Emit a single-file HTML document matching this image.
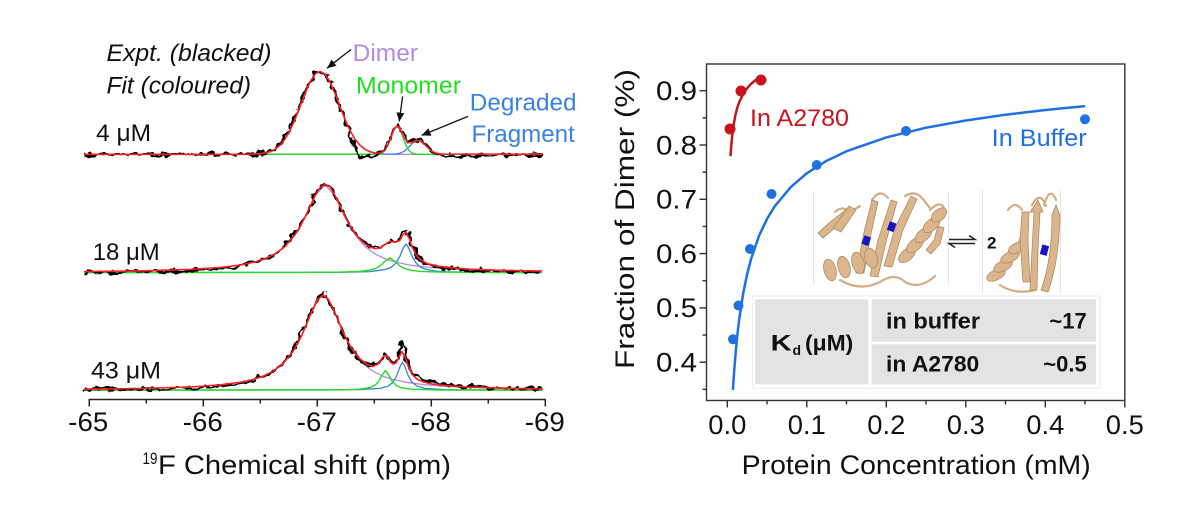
<!DOCTYPE html>
<html><head><meta charset="utf-8"><style>
html,body{margin:0;padding:0;background:#fff;}
svg{display:block;font-family:"Liberation Sans",Arial,sans-serif;}
</style></head><body>
<svg width="1191" height="511" viewBox="0 0 1191 511" xmlns="http://www.w3.org/2000/svg">
<defs>
<filter id="jit" filterUnits="userSpaceOnUse" x="0" y="0" width="1191" height="511">
<feTurbulence type="fractalNoise" baseFrequency="0.13 0.13" numOctaves="2" seed="5" result="t"/>
<feColorMatrix in="t" type="matrix" values="1 0 0 0 0  0 1 0 0 0  0 0 1 0 0  0 0 0 0 1" result="t2"/>
<feDisplacementMap in="SourceGraphic" in2="t2" scale="9" xChannelSelector="R" yChannelSelector="G"/>
</filter>
<marker id="ah" markerUnits="userSpaceOnUse" markerWidth="10" markerHeight="10" refX="9" refY="5" orient="auto">
<path d="M0,1 L9,5 L0,9 z" fill="#111"/>
</marker>
</defs>
<rect width="1191" height="511" fill="#fff"/>

<!-- ================= LEFT: spectra ================= -->
<g fill="none" stroke-linejoin="round">
<!-- purple dimer components -->
<g stroke="#b48be0" stroke-width="1.3">
<path d="M84,154.3 L255,154.3 L260,153.7 L265,153 L270,151.7 L275,149.3 L280,145.3 L285,139.1 L290,130.4 L295,119.4 L300,106.6 L305,93.5 L310,82 L315,74.1 L320,71.3 L325,74.1 L330,82 L335,93.5 L340,106.6 L345,119.4 L350,130.4 L355,139.1 L360,145.3 L365,149.3 L370,151.7 L375,153 L380,153.7 L390,154.3 L542,154.3"/>
<path d="M84,271.6 L140,270.9 L190,269.45 L220,267.5 L240,265.1 L255,261.9 L265,258.7 L275,253.9 L285,246.5 L295,234.8 L305,217.3 L315,196 L325,184.6 L335,196 L345,217.3 L355,234.8 L365,246.5 L375,253.9 L385,258.7 L395,261.9 L410,265.1 L430,267.5 L460,269.45 L510,270.9 L542,271.4"/>
<path d="M84,389.2 L140,388.5 L190,387 L220,384.9 L240,382.3 L253,379.5 L263,376.2 L273,371.3 L283,363.6 L293,351.5 L298,343 L303,332.6 L308,320.7 L313,308.7 L318,299.3 L323,295.7 L328,299.3 L333,308.7 L338,320.7 L343,332.6 L348,343 L353,351.5 L363,363.6 L373,371.3 L383,376.2 L393,379.5 L406,382.3 L426,384.9 L456,387 L506,388.5 L542,389"/>
</g>
<!-- blue degraded components -->
<g stroke="#3b82e0" stroke-width="1.3">
<path d="M84,154.3 L395,154.1 L400,153.2 L404,151.3 L408,147.9 L412,143.7 L416,140.7 L418,140.3 L420,140.7 L424,143.7 L428,147.9 L432,151.3 L436,153.2 L441,154.1 L542,154.3"/>
<path d="M84,272.6 L340,272.3 L370,271.6 L386,269.4 L391,267.5 L396,263 L400,256.1 L403,248.4 L406,244 L409,248.4 L412,256.1 L416,263 L421,267.5 L426,269.4 L436,271.1 L446,271.75 L480,272.3 L542,272.6"/>
<path d="M84,390.2 L360,389.65 L380,388.4 L388,386.1 L393,382.3 L397,375.2 L400,366.6 L402.6,362.2 L405,366.6 L408,375.2 L412,382.3 L417,386.1 L425,388.4 L445,389.65 L542,390.2"/>
</g>
<!-- green monomer components -->
<g stroke="#22dd22" stroke-width="1.4">
<path d="M84,154.3 L378,154.3 L382,153.1 L385,150.5 L388,145.2 L390,140.1 L392,134.5 L394,129.6 L397,126.3 L400,129.6 L402,134.5 L404,140.1 L406,145.2 L409,150.5 L412,153.1 L416,154.3 L542,154.3"/>
<path d="M84,272.6 L300,272.45 L340,272.1 L360,271.4 L370,270.1 L375,268.7 L380,266 L385,261.3 L390,257.8 L395,261.3 L400,266 L405,268.7 L410,270.1 L420,271.4 L440,272.1 L480,272.45 L542,272.6"/>
<path d="M84,390.2 L340,389.9 L360,389.1 L370,387.6 L375,385.3 L379,381 L382,375.4 L385.4,370.6 L389,375.4 L392,381 L396,385.3 L401,387.7 L411,389.2 L440,390 L542,390.2"/>
</g>
<!-- black experimental -->
<g stroke="#000" stroke-width="2.6" filter="url(#jit)">
<path d="M84,154.3 L250,154.3 L260,153.7 L265,152.5 L270,150.7 L275,147.8 L280,143.3 L285,136.6 L290,127.4 L295,116.4 L300,104 L305,91.5 L310,80.5 L315,72.8 L320,71 L325,73.6 L330,81.5 L335,93.5 L340,107.6 L345,121.4 L350,134 L355,147 L358,155.5 L362,157.5 L368,155 L375,154.5 L380,153.2 L385,150.3 L390,140.1 L394,129.4 L397,125 L400,128.5 L404,137.1 L408,142.2 L412,141.5 L416,139 L420,139.7 L425,143.8 L430,149 L435,153 L440,155.5 L445,156 L542,154.3"/>
<path d="M84,272.6 L90,272 L140,271.5 L190,270.5 L220,268.5 L240,266.5 L252,262 L258,260.5 L265,259.5 L275,254.5 L285,246 L295,234 L300,226 L305,216.5 L310,206 L315,195.5 L320,187 L325,183.5 L330,186.8 L335,195.3 L340,205.8 L345,216.3 L350,225.8 L355,233.3 L360,239.4 L365,244 L370,246.5 L375,247.6 L380,247 L385,243.5 L390,240.5 L395,241 L400,239 L403,233.7 L406,230.5 L409,237.5 L412,246.7 L416,255 L421,260.5 L428,264.5 L438,266.5 L450,268.5 L470,270.5 L500,271.5 L542,272"/>
<path d="M84,389.8 L140,389 L190,388 L220,386.5 L240,383.5 L253,382 L255,379 L263,376.5 L273,371.8 L283,363 L290,354 L293,349.5 L298,340.5 L303,329.6 L308,318.7 L313,307.7 L318,298.3 L323,293 L328,298.8 L333,309.1 L338,321 L343,332.8 L348,343.1 L353,351.4 L358,357.9 L363,361.6 L368,364.5 L373,365.5 L378,363.1 L381,358.7 L384,353 L387,355 L390,360.5 L393,363.2 L396,360.9 L399,354.2 L401,345 L402.5,341.5 L404,347 L406,356.4 L408,363 L412,371.5 L417,377.1 L423,380.5 L432,382.5 L445,384.6 L465,386 L500,387.5 L542,388.5"/>
</g>
<!-- red fits -->
<g stroke="#ff2020" stroke-width="1.6">
<path d="M84,154.3 L250,154.3 L260,153.7 L265,153 L270,151.7 L275,149.3 L280,145.3 L285,139.1 L290,130.4 L295,119.4 L300,106.6 L305,93.5 L310,82 L315,74.1 L320,71.3 L325,74.1 L330,82 L335,93.5 L340,106.6 L345,119.4 L350,130.4 L355,139.1 L360,145.3 L365,149.3 L370,151.7 L375,153 L380,153.2 L385,150.3 L390,140.1 L394,129.4 L397,125.9 L400,128.5 L404,137.1 L408,142.7 L412,142.5 L416,140.5 L420,140.7 L425,144.8 L430,149.75 L435,152.8 L440,154 L542,154.3"/>
<path d="M84,271.6 L90,271.5 L140,270.9 L190,269.45 L220,267.5 L240,265.1 L255,261.9 L265,258.7 L275,253.9 L285,246.5 L295,234.8 L300,226.9 L305,217.3 L310,206.6 L315,196 L320,187.7 L325,184.1 L330,187.1 L335,195.3 L340,205.8 L345,216.3 L350,225.8 L355,233.3 L360,239.4 L365,244 L370,247.1 L375,248.6 L380,248 L385,244.5 L390,241.2 L395,242.4 L400,240.1 L403,234.7 L406,232.2 L409,237.9 L412,246.7 L416,254.8 L421,260.3 L428,263.8 L438,266.2 L450,267.7 L470,269.2 L500,270.3 L542,271.1"/>
<path d="M84,389.2 L140,388.5 L190,387 L220,384.9 L240,382.3 L253,379.5 L263,376.2 L273,371.3 L283,363.6 L293,351.5 L298,343 L303,332.6 L308,320.7 L313,308.7 L318,299.3 L323,295.2 L328,298.8 L333,308.1 L338,320 L343,331.8 L348,342.1 L353,350.4 L358,356.9 L363,361.6 L368,364.9 L373,366.3 L378,364.1 L381,359.7 L384,355.5 L387,356 L390,361.5 L393,364.2 L396,362.9 L399,357.2 L402,351.6 L405,356.4 L408,365.7 L412,374.1 L417,379.1 L423,381.9 L432,384 L445,385.6 L465,386.9 L500,388.1 L542,389"/>
</g>
</g>

<!-- annotation arrows -->
<g stroke="#111" stroke-width="1.3" fill="none">
<line x1="351" y1="49.5" x2="327" y2="68.2" marker-end="url(#ah)"/>
<line x1="402.6" y1="96.4" x2="399.2" y2="121.6" marker-end="url(#ah)"/>
<line x1="468" y1="116.4" x2="421.6" y2="135.4" marker-end="url(#ah)"/>
</g>

<!-- left labels -->
<g font-size="24">
<text x="106.5" y="61" font-style="italic" fill="#111" textLength="165" lengthAdjust="spacingAndGlyphs">Expt. (blacked)</text>
<text x="106.5" y="93.3" font-style="italic" fill="#111" textLength="144.5" lengthAdjust="spacingAndGlyphs">Fit (coloured)</text>
<text x="352.7" y="61" fill="#b48be0" textLength="65.3" lengthAdjust="spacingAndGlyphs">Dimer</text>
<text x="356" y="93.3" fill="#22dd22" textLength="105" lengthAdjust="spacingAndGlyphs">Monomer</text>
<text x="469.8" y="110.6" fill="#3b82e0" textLength="106.7" lengthAdjust="spacingAndGlyphs">Degraded</text>
<text x="471.5" y="142.2" fill="#3b82e0" textLength="103.3" lengthAdjust="spacingAndGlyphs">Fragment</text>
<text x="96" y="141" fill="#111" textLength="55" lengthAdjust="spacingAndGlyphs">4 μM</text>
<text x="92.7" y="260" fill="#111" textLength="67" lengthAdjust="spacingAndGlyphs">18 μM</text>
<text x="91" y="378.5" fill="#111" textLength="70" lengthAdjust="spacingAndGlyphs">43 μM</text>
</g>

<!-- left axis -->
<g stroke="#222" stroke-width="1.5">
<line x1="88.5" y1="399.5" x2="546" y2="399.5"/>
<line x1="89.3" y1="399.5" x2="89.3" y2="406.5"/>
<line x1="203.3" y1="399.5" x2="203.3" y2="406.5"/>
<line x1="317.3" y1="399.5" x2="317.3" y2="406.5"/>
<line x1="431.3" y1="399.5" x2="431.3" y2="406.5"/>
<line x1="545.3" y1="399.5" x2="545.3" y2="406.5"/>
<line x1="146.3" y1="399.5" x2="146.3" y2="403.5"/>
<line x1="260.3" y1="399.5" x2="260.3" y2="403.5"/>
<line x1="374.3" y1="399.5" x2="374.3" y2="403.5"/>
<line x1="488.3" y1="399.5" x2="488.3" y2="403.5"/>
</g>
<g font-size="27" fill="#111" text-anchor="middle">
<text x="88.3" y="431" textLength="40" lengthAdjust="spacingAndGlyphs">-65</text>
<text x="202.8" y="431" textLength="40" lengthAdjust="spacingAndGlyphs">-66</text>
<text x="316.8" y="431" textLength="40" lengthAdjust="spacingAndGlyphs">-67</text>
<text x="430.8" y="431" textLength="40" lengthAdjust="spacingAndGlyphs">-68</text>
<text x="544.8" y="431" textLength="40" lengthAdjust="spacingAndGlyphs">-69</text>
</g>
<text x="142.5" y="464" font-size="17" fill="#111" textLength="15" lengthAdjust="spacingAndGlyphs">19</text>
<text x="158" y="474" font-size="27" fill="#111" textLength="293" lengthAdjust="spacingAndGlyphs">F Chemical shift (ppm)</text>

<!-- ================= RIGHT: binding chart ================= -->
<!-- protein inset -->
<g stroke="#e4e4e4" stroke-width="1">
<line x1="813.5" y1="192" x2="813.5" y2="285"/>
<line x1="948.5" y1="192" x2="948.5" y2="285"/>
<line x1="982.5" y1="190" x2="982.5" y2="293"/>
<line x1="1060.5" y1="190" x2="1060.5" y2="293"/>
</g>
<g fill="none" stroke="#d4ad84" stroke-width="2.2" stroke-linecap="round">
<path d="M840,280 Q860,292 880,282 Q895,272 905,282 Q920,290 935,276"/>
<path d="M872,200 Q880,188 888,198"/>
<path d="M905,196 Q915,190 922,198 L930,208"/>
<path d="M835,212 Q842,205 850,212 L860,206"/>
<path d="M930,210 Q940,200 944,208"/>
<path d="M1032,205 Q1040,190 1046,206"/>
<path d="M1044,205 Q1050,185 1056,200"/>
<path d="M1018,246 Q1022,232 1028,225"/>
<path d="M1000,285 Q1015,295 1035,290"/>
<path d="M1008,210 Q1015,200 1022,210"/>
</g>
<g fill="#dbb58b" stroke="#a8845c" stroke-width="0.7">
<path d="M818,233 L830,222 L847,209 L852,214 L836,227 L823,238 Z"/>
<path d="M833,228 L849,206 L856,210 L841,232 Z"/>
<path d="M856,273 L864,232 L872,200 L878,202 L871,234 L864,273 Z"/>
<path d="M870,276 L878,240 L891,200 L897,202 L886,242 L878,277 Z"/>
<path d="M884,266 L895,228 L911,196 L917,199 L903,230 L892,267 Z"/>
<path d="M926,250 L934,240 L938,226 L944,228 L940,244 L931,254 Z"/>
<ellipse cx="830" cy="270" rx="6" ry="11" transform="rotate(-15 830 270)"/>
<ellipse cx="844" cy="267" rx="6" ry="11" transform="rotate(-15 844 267)"/>
<ellipse cx="858" cy="263" rx="6" ry="11" transform="rotate(-15 858 263)"/>
<ellipse cx="871" cy="258" rx="6" ry="10" transform="rotate(-15 871 258)"/>
<ellipse cx="907" cy="255" rx="10" ry="5.5" transform="rotate(-40 907 255)"/>
<ellipse cx="915" cy="245" rx="10" ry="5.5" transform="rotate(-40 915 245)"/>
<ellipse cx="923.5" cy="235" rx="10" ry="5.5" transform="rotate(-40 923.5 235)"/>
<ellipse cx="931.5" cy="225" rx="10" ry="5.5" transform="rotate(-40 931.5 225)"/>
<ellipse cx="939" cy="215" rx="9" ry="5.5" transform="rotate(-40 939 215)"/>
<ellipse cx="996" cy="275" rx="10" ry="5" transform="rotate(-25 996 275)"/>
<ellipse cx="1003" cy="266" rx="10" ry="5" transform="rotate(-25 1003 266)"/>
<ellipse cx="1010" cy="257" rx="10" ry="5" transform="rotate(-25 1010 257)"/>
<ellipse cx="1017" cy="248" rx="9" ry="5" transform="rotate(-25 1017 248)"/>
<path d="M1023,282 L1020,240 L1022,212 L1029,212 L1028,240 L1030,282 Z"/>
<path d="M1030,290 L1032,250 L1034,212 L1030,212 L1038,200 L1043,212 L1040,212 L1038,250 L1037,290 Z"/>
<path d="M1041,290 Q1052,260 1052,215 L1056,205 L1060,215 Q1059,262 1048,292 Z"/>
</g>
<g fill="#1414c8">
<rect x="863" y="236" width="7" height="9" transform="rotate(20 866 240)"/>
<rect x="888" y="222" width="7" height="9" transform="rotate(20 891 227)"/>
<rect x="1041" y="245" width="7" height="10" transform="rotate(15 1044 250)"/>
</g>
<g stroke="#222" stroke-width="1.5" fill="none">
<path d="M949,239.5 L975,239.5 L969,235.5"/>
<path d="M975,243.5 L949,243.5 L955,247.5"/>
</g>
<text x="987" y="248.5" font-size="17" font-weight="bold" fill="#111">2</text>

<!-- table -->
<rect x="752.7" y="296" width="347.3" height="92.3" fill="#fff" stroke="#ebebeb" stroke-width="1"/>
<rect x="755" y="299.3" width="113.3" height="85" fill="#e3e3e3"/>
<rect x="871.7" y="299.3" width="224.3" height="42.4" fill="#e3e3e3"/>
<rect x="871.7" y="344.3" width="224.3" height="40" fill="#e3e3e3"/>
<g font-size="22" font-weight="bold" fill="#111">
<text x="770.7" y="350.7" textLength="21" lengthAdjust="spacingAndGlyphs">K</text>
<text x="792.5" y="355" font-size="14">d</text>
<text x="805" y="350.7" textLength="48.3" lengthAdjust="spacingAndGlyphs">(μM)</text>
<text x="886" y="328.3" textLength="94" lengthAdjust="spacingAndGlyphs">in buffer</text>
<text x="1086.7" y="328.3" text-anchor="end">~17</text>
<text x="886" y="371.7" textLength="93.3" lengthAdjust="spacingAndGlyphs">in A2780</text>
<text x="1086.7" y="371.7" text-anchor="end">~0.5</text>
</g>

<!-- curves -->
<path d="M732.9,389.9 L733.7,377.6 L735.3,356.9 L737.2,336.1 L739.2,319.3 L743.2,293.3 L747.2,273.9 L751.2,258.5 L759.1,235.6 L767.1,218.8 L775,205.9 L790.9,186.9 L806.8,173.3 L826.7,160.7 L846.6,151.2 L886.3,137.4 L926.1,127.7 L965.8,120.5 L1005.6,114.7 L1045.3,110 L1085.1,106.1" fill="none" stroke="#1f70e0" stroke-width="2.5" stroke-linejoin="round"/>
<path d="M730.5,156.2 L731.3,145 L732.1,136.5 L733.7,124.3 L735.3,115.7 L737.2,108 L739.2,102.1 L743.2,93.8 L747.2,88.05 L751.2,83.75 L755.1,80.4 L761.5,76.3" fill="none" stroke="#c8141c" stroke-width="2.5" stroke-linejoin="round"/>
<g fill="#1f70e0">
<circle cx="733" cy="339.3" r="5"/>
<circle cx="738.5" cy="305.5" r="5"/>
<circle cx="750" cy="249" r="5"/>
<circle cx="771.5" cy="194" r="5"/>
<circle cx="816.8" cy="165" r="5"/>
<circle cx="906" cy="131" r="5"/>
<circle cx="1085" cy="119.3" r="5"/>
</g>
<g fill="#c8141c">
<circle cx="730" cy="129" r="5.5"/>
<circle cx="741" cy="91" r="5.5"/>
<circle cx="761" cy="80" r="5.5"/>
</g>
<text x="750" y="126" font-size="24" fill="#c8141c" textLength="99" lengthAdjust="spacingAndGlyphs">In A2780</text>
<text x="991.7" y="146" font-size="24" fill="#1f70e0" textLength="95" lengthAdjust="spacingAndGlyphs">In Buffer</text>

<!-- frame & ticks -->
<rect x="706.5" y="64" width="418.3" height="336.5" fill="none" stroke="#333" stroke-width="1.4"/>
<g stroke="#333" stroke-width="1.4">
<line x1="727.3" y1="400.5" x2="727.3" y2="407.5"/>
<line x1="806.8" y1="400.5" x2="806.8" y2="407.5"/>
<line x1="886.3" y1="400.5" x2="886.3" y2="407.5"/>
<line x1="965.8" y1="400.5" x2="965.8" y2="407.5"/>
<line x1="1045.3" y1="400.5" x2="1045.3" y2="407.5"/>
<line x1="1124.8" y1="400.5" x2="1124.8" y2="407.5"/>
<line x1="767" y1="400.5" x2="767" y2="404.5"/>
<line x1="846.5" y1="400.5" x2="846.5" y2="404.5"/>
<line x1="926" y1="400.5" x2="926" y2="404.5"/>
<line x1="1005.5" y1="400.5" x2="1005.5" y2="404.5"/>
<line x1="1085" y1="400.5" x2="1085" y2="404.5"/>
<line x1="706.5" y1="90.7" x2="699.5" y2="90.7"/>
<line x1="706.5" y1="145" x2="699.5" y2="145"/>
<line x1="706.5" y1="199.3" x2="699.5" y2="199.3"/>
<line x1="706.5" y1="253.6" x2="699.5" y2="253.6"/>
<line x1="706.5" y1="307.9" x2="699.5" y2="307.9"/>
<line x1="706.5" y1="362.2" x2="699.5" y2="362.2"/>
<line x1="706.5" y1="117.85" x2="702.5" y2="117.85"/>
<line x1="706.5" y1="172.15" x2="702.5" y2="172.15"/>
<line x1="706.5" y1="226.45" x2="702.5" y2="226.45"/>
<line x1="706.5" y1="280.75" x2="702.5" y2="280.75"/>
<line x1="706.5" y1="335.05" x2="702.5" y2="335.05"/>
<line x1="706.5" y1="389.35" x2="702.5" y2="389.35"/>
</g>
<g font-size="27" fill="#111" text-anchor="middle">
<text x="727.3" y="434" textLength="38" lengthAdjust="spacingAndGlyphs">0.0</text>
<text x="806.8" y="434" textLength="38" lengthAdjust="spacingAndGlyphs">0.1</text>
<text x="886.3" y="434" textLength="38" lengthAdjust="spacingAndGlyphs">0.2</text>
<text x="965.8" y="434" textLength="38" lengthAdjust="spacingAndGlyphs">0.3</text>
<text x="1045.3" y="434" textLength="38" lengthAdjust="spacingAndGlyphs">0.4</text>
<text x="1124.8" y="434" textLength="38" lengthAdjust="spacingAndGlyphs">0.5</text>
</g>
<g font-size="27" fill="#111" text-anchor="end">
<text x="697" y="100" textLength="41" lengthAdjust="spacingAndGlyphs">0.9</text>
<text x="697" y="154.3" textLength="41" lengthAdjust="spacingAndGlyphs">0.8</text>
<text x="697" y="208.6" textLength="41" lengthAdjust="spacingAndGlyphs">0.7</text>
<text x="697" y="262.9" textLength="41" lengthAdjust="spacingAndGlyphs">0.6</text>
<text x="697" y="317.2" textLength="41" lengthAdjust="spacingAndGlyphs">0.5</text>
<text x="697" y="371.5" textLength="41" lengthAdjust="spacingAndGlyphs">0.4</text>
</g>
<text x="741.7" y="474" font-size="27" fill="#111" textLength="349" lengthAdjust="spacingAndGlyphs">Protein Concentration (mM)</text>
<text transform="translate(634,219) rotate(-90)" x="0" y="0" text-anchor="middle" font-size="27" fill="#111" textLength="300" lengthAdjust="spacingAndGlyphs">Fraction of Dimer (%)</text>
</svg>
</body></html>
